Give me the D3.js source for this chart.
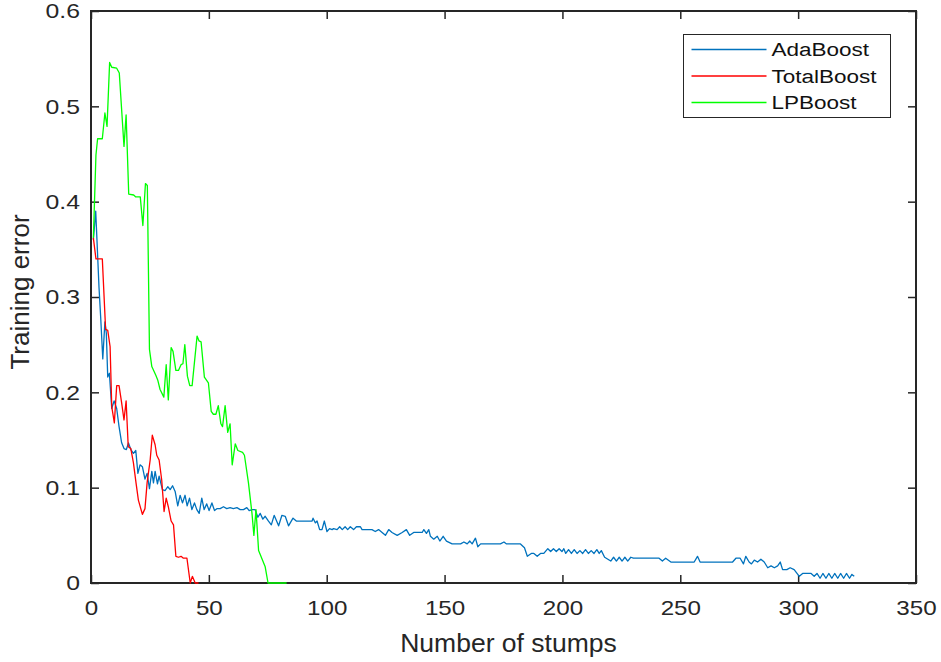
<!DOCTYPE html>
<html>
<head>
<meta charset="utf-8">
<script src="https://cdn.jsdelivr.net/npm/d3@7"></script>
<style>
  body { margin: 0; background: #fff; }
  svg { display: block; font-family: Arial, 'Liberation Sans', Helvetica, sans-serif; }
</style>
</head>
<body>
<svg id="chart" width="941" height="662"></svg>
<script>
// values as [stump, error]
const adaBoost = [
  [1, 0.36], [2, 0.39], [3.4, 0.31], [4.1, 0.279], [5, 0.235], [5.9, 0.274], [6.5, 0.262], [7.1, 0.216],
  [7.8, 0.22], [8.8, 0.183], [9.8, 0.191], [10.9, 0.183], [11.9, 0.164], [13, 0.147], [14, 0.141], [15, 0.14],
  [15.9, 0.147], [16.9, 0.14], [18, 0.136], [19, 0.139], [19.9, 0.115], [20.8, 0.124], [21.8, 0.122], [22.9, 0.109],
  [23.8, 0.115], [24.8, 0.099], [25.8, 0.117], [26.5, 0.105], [27.2, 0.117], [28.2, 0.104], [28.9, 0.112], [30.3, 0.098],
  [31.4, 0.097], [32.6, 0.101], [33.6, 0.098], [34.6, 0.102], [35.7, 0.096], [36.8, 0.081], [37.8, 0.092], [38.8, 0.084],
  [39.9, 0.092], [40.8, 0.081], [41.8, 0.089], [42.8, 0.077], [43.9, 0.084], [44.9, 0.077], [45.9, 0.073], [47, 0.089],
  [48, 0.077], [49.1, 0.083], [50.1, 0.076], [51.3, 0.084], [52.4, 0.076], [53.4, 0.078], [54.8, 0.078], [56.2, 0.08],
  [57.6, 0.078], [59, 0.079], [60.4, 0.078], [61.9, 0.079], [63.3, 0.077], [64.7, 0.077], [66.1, 0.079], [67.1, 0.076],
  [68.3, 0.077], [69.6, 0.077], [70.8, 0.069], [71.8, 0.073], [72.9, 0.067], [73.9, 0.07], [75.3, 0.065], [76.5, 0.061],
  [77.7, 0.071], [79.6, 0.06], [81, 0.071], [82.4, 0.07], [83.8, 0.06], [85.7, 0.068], [87.1, 0.065], [93.8, 0.065],
  [94.2, 0.068], [95.2, 0.063], [95.9, 0.065], [97, 0.056], [98, 0.056], [99, 0.065], [100.1, 0.054], [101.2, 0.057],
  [102.3, 0.056], [102.9, 0.057], [104.4, 0.056], [105.5, 0.059], [106.6, 0.056], [107.8, 0.059], [108.9, 0.056], [110, 0.059],
  [111.4, 0.056], [112.6, 0.059], [114.3, 0.059], [115, 0.056], [119.2, 0.056], [120.6, 0.054], [122, 0.056], [123.5, 0.053],
  [124.9, 0.05], [126.3, 0.056], [127.7, 0.053], [129.9, 0.05], [132, 0.053], [133.8, 0.056], [135.2, 0.05], [136.9, 0.053],
  [140.5, 0.053], [141.2, 0.056], [142.3, 0.052], [143.3, 0.056], [144, 0.049], [145.4, 0.046], [146.9, 0.049], [148, 0.044],
  [149.4, 0.049], [150.8, 0.044], [153.2, 0.041], [156.8, 0.041], [158.2, 0.043], [159.6, 0.041], [160.7, 0.044], [161.7, 0.041],
  [163.1, 0.047], [164.1, 0.038], [165.3, 0.041], [173.7, 0.041], [175.2, 0.043], [176.3, 0.041], [182.2, 0.041], [183.9, 0.037],
  [185.1, 0.028], [186.8, 0.031], [187.9, 0.031], [189.3, 0.028], [190.7, 0.031], [192.1, 0.031], [193.8, 0.036], [195, 0.033],
  [196.2, 0.036], [197.4, 0.033], [198.6, 0.036], [199.8, 0.033], [200.6, 0.036], [201.4, 0.031], [202.6, 0.035], [203.8, 0.031],
  [205, 0.035], [206.2, 0.031], [207.4, 0.034], [208.6, 0.031], [209.8, 0.035], [211, 0.031], [212.2, 0.034], [213.4, 0.031],
  [214.6, 0.035], [215.6, 0.031], [216.5, 0.034], [217.9, 0.027], [220.5, 0.023], [221.7, 0.027], [222.9, 0.023], [224.1, 0.027],
  [225.3, 0.023], [226.5, 0.027], [227.7, 0.023], [229, 0.027], [230.1, 0.026], [241, 0.026], [242.4, 0.023], [243.8, 0.026],
  [246, 0.022], [255.9, 0.022], [257.3, 0.028], [258.4, 0.022], [272.2, 0.022], [273.6, 0.026], [275.4, 0.026], [276.8, 0.02],
  [277.8, 0.028], [279.2, 0.022], [280.2, 0.02], [281.4, 0.024], [282.8, 0.022], [284.2, 0.025], [285.6, 0.022], [287.1, 0.016],
  [288.5, 0.018], [289.9, 0.016], [291.3, 0.018], [292.4, 0.022], [293.4, 0.014], [295.2, 0.014], [296.6, 0.016], [298.3, 0.014],
  [300.5, 0.007], [301.9, 0.01], [305.5, 0.01], [306.8, 0.007], [308, 0.01], [309.3, 0.005], [310.5, 0.01], [311.8, 0.005],
  [313, 0.01], [314.3, 0.005], [315.5, 0.01], [316.8, 0.005], [318, 0.01], [319.3, 0.005], [320.5, 0.01], [321.8, 0.005],
  [322.8, 0.009], [323.8, 0.007]
];

const totalBoost = [
  [1, 0.362], [2.1, 0.34], [4.8, 0.34], [6.2, 0.266], [7.1, 0.265], [8.1, 0.248], [8.8, 0.185], [9.9, 0.168],
  [10.9, 0.207], [11.9, 0.207], [13, 0.189], [14, 0.171], [14.9, 0.191], [15.8, 0.143], [16.9, 0.141], [18, 0.126],
  [19.1, 0.105], [20.1, 0.087], [21.8, 0.072], [22.9, 0.078], [23.8, 0.105], [25.1, 0.129], [26, 0.155], [27.2, 0.145],
  [27.9, 0.134], [28.9, 0.129], [30, 0.108], [31, 0.075], [31.9, 0.089], [32.8, 0.08], [34, 0.065], [35, 0.061],
  [36, 0.028], [37.1, 0.027], [38.2, 0.028], [39.2, 0.026], [40.7, 0.026], [42.1, 0], [43, 0.007], [44.2, 0], [45.6, 0]
];

const lpBoost = [
  [1, 0.362], [2.1, 0.449], [2.8, 0.466], [4.8, 0.466], [5.9, 0.493], [6.8, 0.479], [7.9, 0.546], [8.8, 0.541],
  [10.9, 0.54], [12, 0.535], [14, 0.458], [14.9, 0.491], [16, 0.408], [18.1, 0.407], [19, 0.405], [20.9, 0.405],
  [22, 0.375], [23.1, 0.419], [23.9, 0.417], [24.8, 0.245], [25.8, 0.227], [27.5, 0.218], [28.3, 0.213], [29.3, 0.203],
  [30.9, 0.195], [31.9, 0.229], [32.8, 0.192], [34, 0.247], [34.8, 0.243], [36, 0.223], [37.1, 0.223], [38.2, 0.229],
  [39, 0.23], [39.8, 0.25], [40.9, 0.217], [41.9, 0.207], [42.9, 0.207], [45, 0.259], [45.8, 0.254], [46.7, 0.253],
  [48.1, 0.216], [49.8, 0.21], [51, 0.18], [51.9, 0.177], [53, 0.177], [54, 0.186], [55.1, 0.167], [55.8, 0.164],
  [56.9, 0.186], [58, 0.158], [59, 0.167], [59.9, 0.124], [61.2, 0.146], [62.3, 0.139], [64.3, 0.137], [65.1, 0.134],
  [66.8, 0.105], [68.3, 0.073], [69.1, 0.05], [70, 0.077], [71.1, 0.034], [73.9, 0.017], [75.1, 0], [83, 0]
];

const seriesNames = ['AdaBoost', 'TotalBoost', 'LPBoost'];
const seriesColors = ['#0072bd', '#ff0000', '#00ff00'];
const xTicks = [0, 50, 100, 150, 200, 250, 300, 350];
const yTicks = [0, 0.1, 0.2, 0.3, 0.4, 0.5, 0.6];

const dim = { left: 91, top: 11, width: 825, height: 572 };
const axisColor = '#262626';

// widen text horizontally like the original export
const stretch = (k) => (sel) => {
  sel.each(function () {
    const w = this.getComputedTextLength();
    d3.select(this).attr('textLength', w * k).attr('lengthAdjust', 'spacingAndGlyphs');
  });
};

const svg = d3.select('#chart');
const plot = svg.append('g').attr('transform', `translate(${dim.left},${dim.top})`);

const x = d3.scaleLinear().domain([0, 350]).range([0, dim.width]);
const y = d3.scaleLinear().domain([0, 0.6]).range([dim.height, 0]);

/// axes, ticks pointing inward on all four sides
const styleAxis = (g) => {
  g.select('.domain').remove();
  g.selectAll('line').attr('stroke', axisColor).attr('stroke-width', 1.5);
  g.selectAll('text').attr('fill', axisColor).style('font-size', '21px');
};

plot.append('g')
  .attr('transform', `translate(0,${dim.height})`)
  .call(d3.axisBottom(x).tickValues(xTicks).tickFormat(d3.format('d')).tickSize(-8).tickPadding(17))
  .call(styleAxis)
  .call((g) => g.selectAll('text').attr('dy', 0).attr('y', 32).call(stretch(1.15)));

plot.append('g')
  .call(d3.axisLeft(y).tickValues(yTicks).tickFormat((d) => (d === 0 ? '0' : d3.format('.1f')(d))).tickSize(-8).tickPadding(11))
  .call(styleAxis)
  .call((g) => g.selectAll('text').call(stretch(1.18)));

plot.append('g')
  .call(d3.axisTop(x).tickValues(xTicks).tickFormat('').tickSize(-8))
  .call(styleAxis);

plot.append('g')
  .attr('transform', `translate(${dim.width},0)`)
  .call(d3.axisRight(y).tickValues(yTicks).tickFormat('').tickSize(-8))
  .call(styleAxis);

plot.append('rect')
  .attr('width', dim.width)
  .attr('height', dim.height)
  .attr('fill', 'none')
  .attr('stroke', axisColor)
  .attr('stroke-width', 2);

/// lines drawn over the box so the zero runs stay visible
const line = d3.line().x((d) => x(d[0])).y((d) => y(d[1]));
[adaBoost, totalBoost, lpBoost].forEach((data, i) => {
  plot.append('path')
    .datum(data)
    .attr('fill', 'none')
    .attr('stroke', seriesColors[i])
    .attr('stroke-width', 1.3)
    .attr('stroke-linejoin', 'round')
    .attr('d', line);
});

/// axis titles
svg.append('text')
  .attr('x', dim.left + dim.width / 2 + 5)
  .attr('y', 652)
  .attr('text-anchor', 'middle')
  .attr('fill', axisColor)
  .style('font-size', '26px')
  .text('Number of stumps')
  .call(stretch(1.02));

svg.append('text')
  .attr('transform', `translate(29,292) rotate(-90)`)
  .attr('text-anchor', 'middle')
  .attr('fill', axisColor)
  .style('font-size', '26px')
  .text('Training error');

/// legend
const legend = svg.append('g').attr('transform', 'translate(683.5,34.5)');
legend.append('rect')
  .attr('width', 207)
  .attr('height', 83)
  .attr('fill', '#fff')
  .attr('stroke', axisColor)
  .attr('stroke-width', 1);

const rows = legend.selectAll('g.row')
  .data(seriesNames)
  .enter().append('g')
  .attr('class', 'row')
  .attr('transform', (_, i) => `translate(0,${15 + i * 26.5})`);

rows.append('line')
  .attr('x1', 8)
  .attr('x2', 83)
  .attr('stroke', (_, i) => seriesColors[i])
  .attr('stroke-width', 1.3);

rows.append('text')
  .attr('x', 88)
  .attr('y', 6.5)
  .attr('fill', '#111')
  .style('font-size', '18px')
  .text((d) => d)
  .call(stretch(1.25));
</script>
</body>
</html>
